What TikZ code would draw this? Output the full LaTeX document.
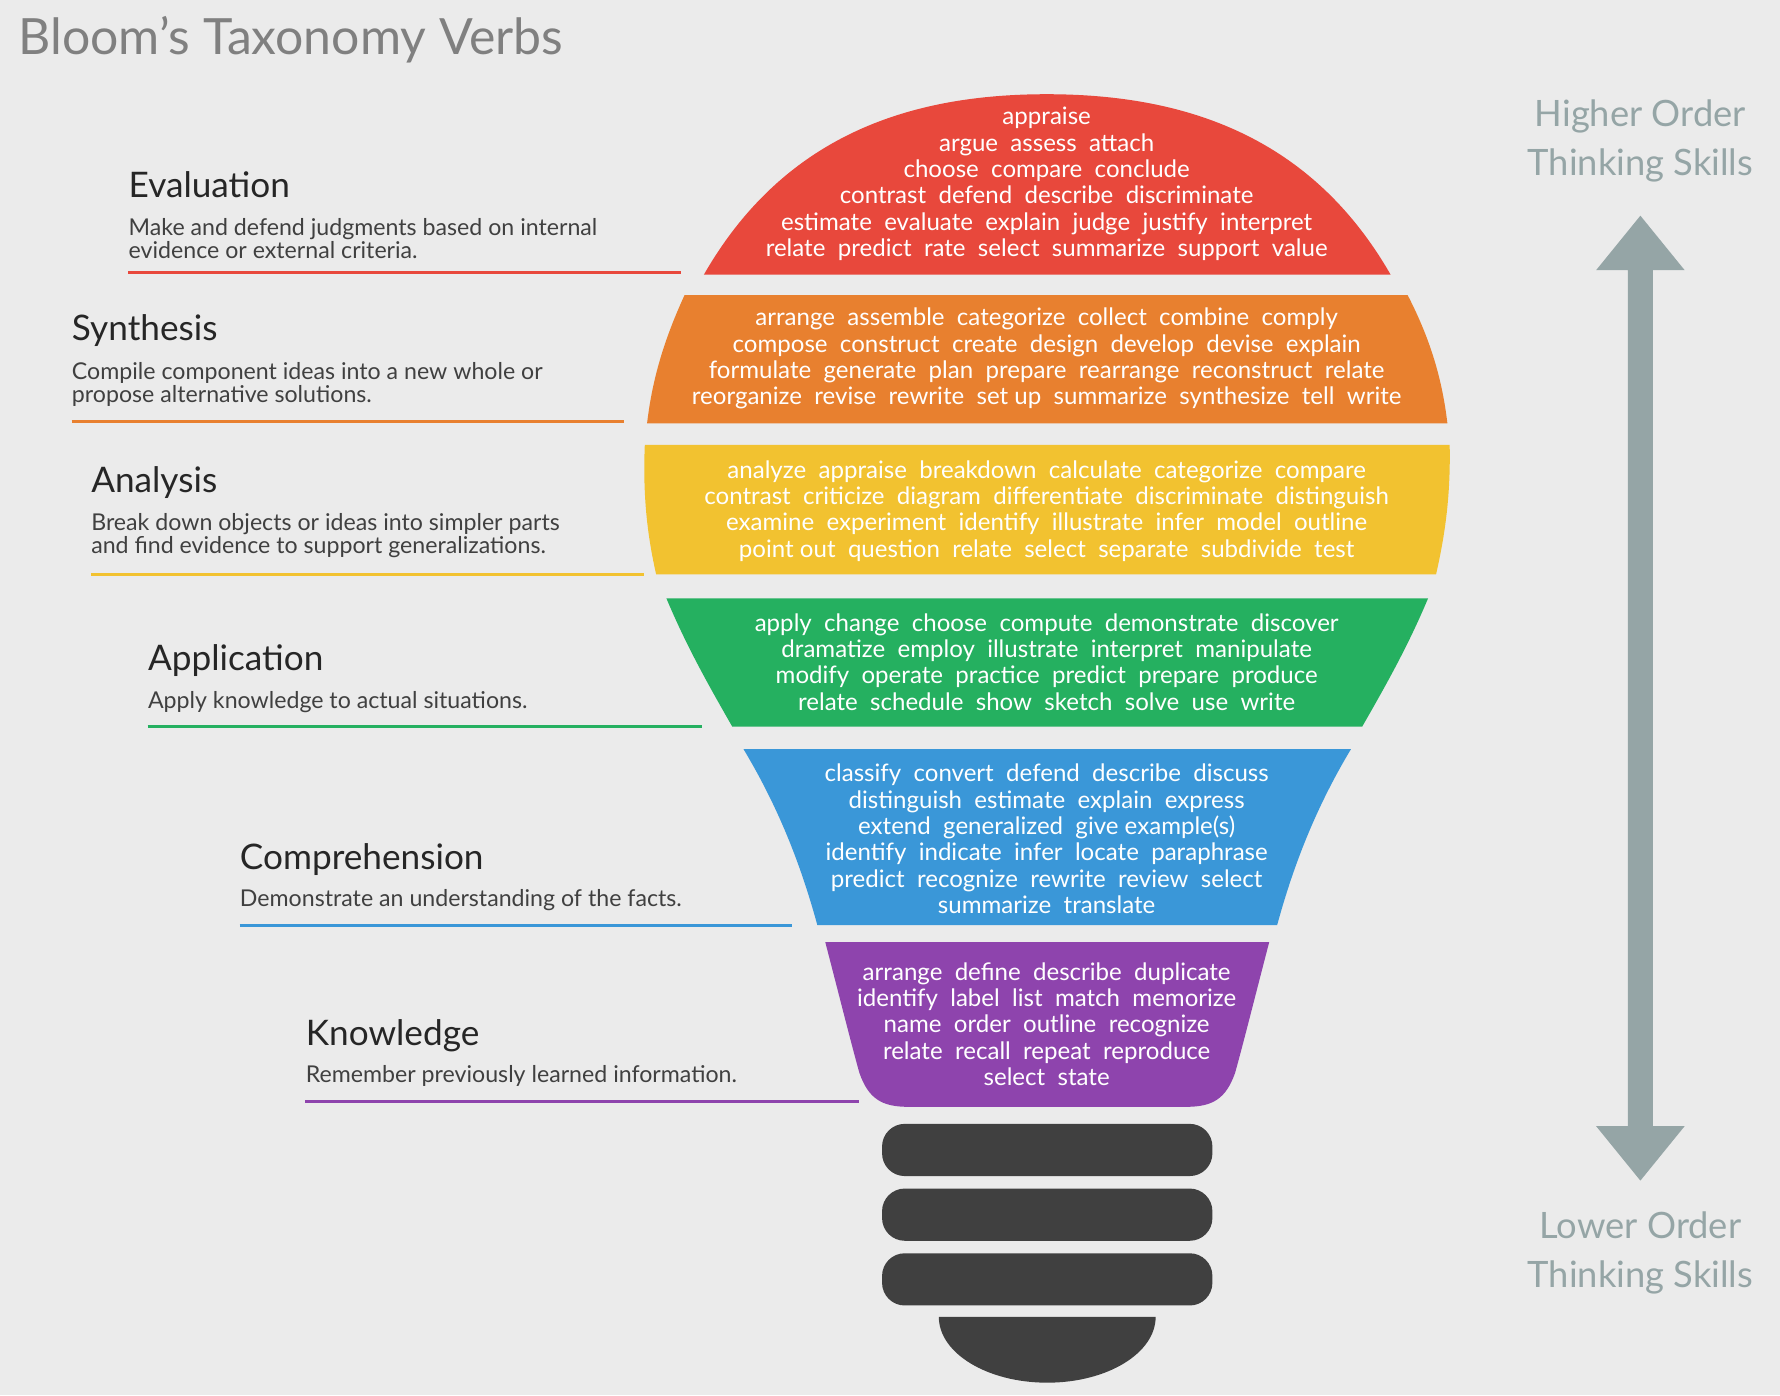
\documentclass[tikz,border=0pt]{standalone}
\usepackage{fontspec}
\setmainfont{Lato}
\begin{document}
\begin{tikzpicture}[x=0.5pt,y=-0.5pt,
  verbs/.style={text=white,align=center,font=\fontsize{10.6}{11.6}\selectfont,inner sep=0},
  ttl/.style={anchor=west,font=\fontsize{15.5}{17}\selectfont,text=black!85,inner sep=0},
  dsc/.style={anchor=north west,align=left,font=\fontsize{10.2}{10}\selectfont,text=black!75,inner sep=0},
  side/.style={align=center,font=\fontsize{16}{21.5}\selectfont,text=arrowc,inner sep=0},
  bar/.style={fill=barc,rounded corners=10pt}]
\definecolor{bg}{HTML}{EBEBEB}
\definecolor{cred}{HTML}{E8483C}
\definecolor{corange}{HTML}{E8802F}
\definecolor{cyellow}{HTML}{F2C230}
\definecolor{cgreen}{HTML}{25B060}
\definecolor{cblue}{HTML}{3A97D8}
\definecolor{cpurple}{HTML}{8E44AD}
\definecolor{barc}{HTML}{404040}
\definecolor{arrowc}{HTML}{95A5A6}
\fill[bg] (0,0) rectangle (1568,1229);
\useasboundingbox (0,0) rectangle (1568,1229);
\node[anchor=west,inner sep=0,text=black!50,font=\fontsize{22}{24}\selectfont] (title) at (16,35) {Bloom's Taxonomy Verbs};
% bulb segments
\fill[cred] (620,242) .. controls (690,120) and (800,83) .. (922,83) .. controls (1044,83) and (1155,120) .. (1225,242) -- cycle;
\fill[corange] (603,260) -- (1240,260) .. controls (1258,295) and (1270,330) .. (1275,373) -- (570,373) .. controls (575,330) and (587,295) .. (603,260) -- cycle;
\fill[cyellow] (568,392) -- (1277,392) .. controls (1278,440) and (1272,475) .. (1265,506) -- (578,506) .. controls (571,475) and (566,440) .. (568,392) -- cycle;
\fill[cgreen] (587,527) -- (1258,527) .. controls (1240,570) and (1220,605) .. (1200,640) -- (645,640) .. controls (625,605) and (605,570) .. (587,527) -- cycle;
\fill[cblue] (655,660) -- (1190,660) .. controls (1160,710) and (1140,760) .. (1125,815) -- (720,815) .. controls (705,760) and (685,710) .. (655,660) -- cycle;
\fill[cpurple] (727,830) -- (1118,830) .. controls (1105,880) and (1095,920) .. (1088,945) .. controls (1080,968) and (1068,975) .. (1045,975) -- (800,975) .. controls (777,975) and (765,968) .. (757,945) .. controls (750,920) and (740,880) .. (727,830) -- cycle;
% base
\fill[bar] (777,990) rectangle (1068,1036);
\fill[bar] (777,1047) rectangle (1068,1093);
\fill[bar] (777,1104) rectangle (1068,1150);
\fill[barc] (827,1160) -- (1018,1160) arc[start angle=0,end angle=-180,x radius=95.5,y radius=-58] -- cycle;
% verbs
\node[verbs] (v1) at (922,162) {appraise\\argue \ assess \ attach\\choose \ compare \ conclude\\contrast \ defend \ describe \ discriminate\\estimate \ evaluate \ explain \ judge \ justify \ interpret\\relate \ predict \ rate \ select \ summarize \ support \ value};
\node[verbs] (v2) at (922,316) {arrange \ assemble \ categorize \ collect \ combine \ comply\\compose \ construct \ create \ design \ develop \ devise \ explain\\formulate \ generate \ plan \ prepare \ rearrange \ reconstruct \ relate\\reorganize \ revise \ rewrite \ set up \ summarize \ synthesize \ tell \ write};
\node[verbs] (v3) at (922,450) {analyze \ appraise \ breakdown \ calculate \ categorize \ compare\\contrast \ criticize \ diagram \ differentiate \ discriminate \ distinguish\\examine \ experiment \ identify \ illustrate \ infer \ model \ outline\\point out \ question \ relate \ select \ separate \ subdivide \ test};
\node[verbs] (v4) at (922,583) {apply \ change \ choose \ compute \ demonstrate \ discover\\dramatize \ employ \ illustrate \ interpret \ manipulate\\modify \ operate \ practice \ predict \ prepare \ produce\\relate \ schedule \ show \ sketch \ solve \ use \ write};
\node[verbs] (v5) at (922,739) {classify \ convert \ defend \ describe \ discuss\\distinguish \ estimate \ explain \ express\\extend \ generalized \ give example(s)\\identify \ indicate \ infer \ locate \ paraphrase\\predict \ recognize \ rewrite \ review \ select\\summarize \ translate};
\node[verbs] (v6) at (922,902) {arrange \ define \ describe \ duplicate\\identify \ label \ list \ match \ memorize\\name \ order \ outline \ recognize\\relate \ recall \ repeat \ reproduce\\select \ state};
% labels
\node[ttl] (t1) at (113,163) {Evaluation};
\node[dsc] (d1) at (113,192) {Make and defend judgments based on internal\\evidence or external criteria.};
\draw[cred,line width=1.2pt] (113,240) -- (600,240);
\node[ttl] (t2) at (63,291) {Synthesis};
\node[dsc] (d2) at (63,319) {Compile component ideas into a new whole or\\propose alternative solutions.};
\draw[corange,line width=1.2pt] (63,371) -- (550,371);
\node[ttl] (t3) at (80,425) {Analysis};
\node[dsc] (d3) at (80,452) {Break down objects or ideas into simpler parts\\and find evidence to support generalizations.};
\draw[cyellow,line width=1.2pt] (80,506) -- (567,506);
\node[ttl] (t4) at (130,582) {Application};
\node[dsc] (d4) at (130,609) {Apply knowledge to actual situations.};
\draw[cgreen,line width=1.2pt] (130,640) -- (618,640);
\node[ttl] (t5) at (211,757) {Comprehension};
\node[dsc] (d5) at (211,783) {Demonstrate an understanding of the facts.};
\draw[cblue,line width=1.2pt] (211,815) -- (698,815);
\node[ttl] (t6) at (269,912) {Knowledge};
\node[dsc] (d6) at (269,938) {Remember previously learned information.};
\draw[cpurple,line width=1.2pt] (269,970) -- (757,970);
% arrow
\fill[arrowc] (1445,190) -- (1484,238) -- (1456,238) -- (1456,992) -- (1484,992) -- (1445,1040) -- (1406,992) -- (1434,992) -- (1434,238) -- (1406,238) -- cycle;
\node[side] (hi) at (1445,124) {Higher Order\\Thinking Skills};
\node[side] (lo) at (1445,1104) {Lower Order\\Thinking Skills};
\end{tikzpicture}
\end{document}
